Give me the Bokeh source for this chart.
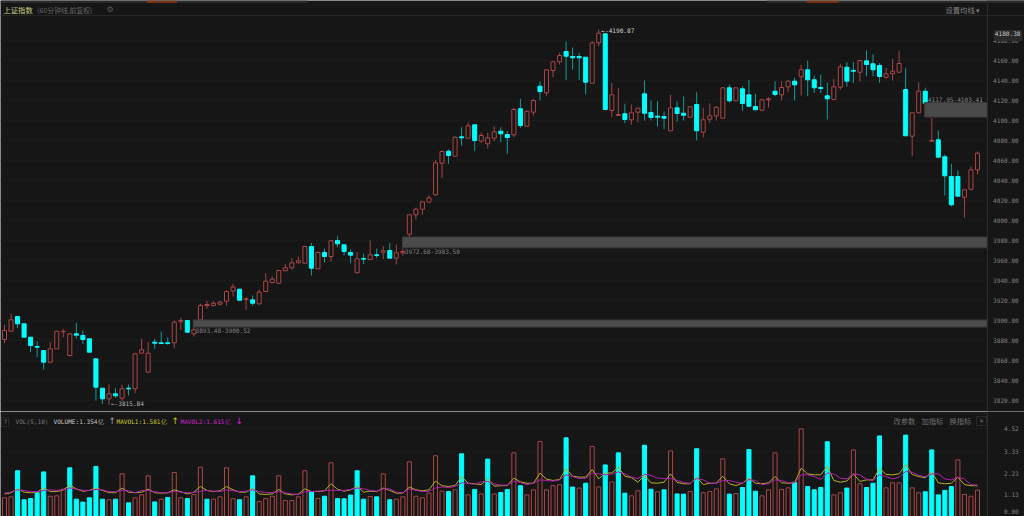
from bokeh.plotting import figure
from bokeh.layouts import column
from bokeh.models import Range1d, LinearAxis, FixedTicker, Label, BoxAnnotation, NumeralTickFormatter, ColumnDataSource
from bokeh.core.properties import value
from bokeh.embed import file_html
from bokeh.resources import INLINE

# ---- data ----
opens = [3881,3889.3,3904,3896.7,3883.3,3874,3870,3858.3,3871.7,3888.7,3865,3886.7,3885,3881.7,3861.7,3832.3,3821.7,3826.7,3822.3,3832.3,
3831.7,3867.3,3848.3,3878.3,3877.7,3877.7,3877.7,3898.7,3900,3886.7,3900.7,3915,3915,3916.3,3919.3,3929.5,3931.3,3921,3920.7,3916.7,
3929,3938,3937.3,3949.7,3952.7,3957.7,3957.3,3974,3951.7,3968,3964,3980,3975.7,3968,3947.7,3962,3961,3965.7,3968.3,3970,
3962.3,3967.7,3986.3,4005.7,4011.3,4018.3,4025.7,4057.3,4069.3,4064.3,4083.7,4082.3,4095.7,4079.3,4076.7,4082.3,4089.3,4086,4085.7,4111.7,
4094.3,4108.3,4134.3,4127.7,4150,4158.7,4169,4164,4164,4163.3,4137.3,4177.7,4186.7,4110,4105,4106.7,4100.7,4108.3,4126.7,4108,
4104.3,4104,4089.7,4112.7,4107.3,4103.3,4116,4088.3,4101.3,4104.7,4102.3,4132.7,4119.7,4131.7,4125.7,4114,4110.3,4120.7,4129.3,4125.7,
4133.7,4139.3,4143.7,4150.7,4140.7,4133,4124.7,4121,4133.3,4153.3,4150,4148.3,4159.7,4156.7,4155,4143.3,4146.7,4148.3,4131,4084.3,
4107.7,4129.3,4079.3,4080.7,4063.7,4044,4044,4023.3,4031.3,4050.7]
highs = [3895.7,3906.7,3904,3896.7,3883.3,3879.3,3870,3878.3,3889.3,3891.7,3887.7,3897.7,3890,3881.7,3861.7,3832.3,3836,3832.3,3835.7,3836,
3867.7,3881.7,3878.3,3881.7,3889,3883.3,3900,3902.7,3900,3895,3916.7,3920,3919,3920,3930,3936.7,3931.3,3923.3,3925,3931,
3947.3,3944,3950.3,3956.7,3962.7,3964,3974.7,3977.7,3969,3971.7,3980.7,3984.3,3975.7,3971,3968.3,3966.7,3980,3972,3974.3,3977.7,
3976,3972,4005.7,4012.7,4018.7,4025,4060.7,4070,4071,4084,4093.3,4098,4095.7,4088,4087.7,4094,4093.3,4089.3,4112.7,4121.7,
4110,4121.7,4139,4151.3,4159.3,4167.7,4179,4173,4167.7,4163.3,4179.3,4190.87,4186.7,4137.7,4132.3,4116.7,4116,4112.3,4140,4120,
4119.3,4109,4125.7,4119,4124,4114.3,4128.3,4112.7,4117,4114.3,4132.7,4135.7,4132.7,4134.3,4140.7,4126.7,4121.7,4123.3,4139.3,4139.3,
4140,4142.7,4155.7,4160,4145,4145.7,4138,4141.7,4156.7,4158.3,4158.3,4160,4170,4166,4157.3,4152.7,4161.7,4170,4152.3,4107.7,
4138.3,4132.7,4102.7,4090,4066,4056.7,4050,4030.7,4054,4069]
lows = [3877.3,3889.3,3892.3,3883.3,3868.3,3863.3,3851,3857.3,3871.7,3883.3,3864.3,3881.7,3876.7,3868.3,3820,3816.7,3815.84,3822.7,3819.3,3825,
3827.3,3867.3,3847.7,3871.7,3876.7,3875.7,3872.3,3890.7,3888.3,3884,3900,3911.7,3914,3915,3915,3924,3920,3910.7,3915,3916,
3929,3937.3,3937,3949.7,3951,3957.3,3957,3945,3951.3,3958,3959,3973.3,3965,3957.3,3947.3,3956.3,3960.7,3962.3,3961.3,3962.3,
3956,3965,3983.3,4001,4006,4018.3,4025,4042.7,4056.7,4064.3,4075,4082.3,4069.3,4077.7,4072,4079.3,4078.3,4066.7,4083.3,4092.3,
4094.3,4105,4120,4124.3,4143.3,4156,4140.7,4151,4140.7,4126,4137.3,4174,4111,4103.3,4105,4097.3,4096,4098.3,4100,4100,
4094,4091.3,4089.7,4099,4100,4102.7,4080,4083,4097.7,4100,4102.3,4118,4119.7,4109.7,4113.3,4110.7,4109.3,4113,4124.3,4120,
4128.3,4120,4125,4124.3,4127.7,4127.3,4101,4121,4130.7,4134,4137.3,4139,4144.3,4144.3,4137.7,4142,4140,4147.7,4084.7,4064.3,
4107.7,4117.3,4079.3,4063.3,4025,4014,4024.3,4002.7,4030,4046]
closes = [3890,3900.7,3896.7,3883.3,3875,3873.3,3858.3,3871.7,3889.3,3889.3,3886.7,3885.3,3881,3868.3,3833.3,3821.7,3826.7,3824.7,3831.7,3831.7,
3866.7,3870.7,3867.3,3877.3,3877,3877,3898.3,3900,3888.3,3890.7,3915,3916,3917.3,3918.3,3929,3933.5,3920.3,3921.7,3917.3,3928.3,
3939.3,3941.3,3950,3952.7,3957.7,3959.7,3974,3952.3,3968,3964,3979.7,3976.7,3969,3965.3,3961.7,3961.3,3965.7,3965,3969.7,3962.3,
3967.7,3969,4005.7,4011.3,4018.7,4022.7,4057.7,4069,4065,4083.3,4082.7,4094.7,4080,4085,4082.7,4088.7,4086.7,4083,4111,4095,
4109.3,4120,4129,4150.7,4158.7,4165,4164.3,4162.7,4162.7,4138.3,4177.7,4187.3,4111,4125.7,4106,4101,4107.7,4112.3,4107.3,4103,
4103.3,4102.3,4112.7,4107,4105.3,4113.7,4089.7,4100.7,4104.7,4113.3,4132.7,4119.7,4132.7,4117,4114.3,4110.7,4120.7,4121.7,4126,4133,
4139.3,4135.7,4150.7,4140.7,4132.7,4132,4121.7,4133.7,4153.7,4139.3,4149.3,4160,4156,4150.7,4144,4146.7,4149.3,4157,4084.7,4107.7,
4129.3,4117.3,4080,4063.3,4044.7,4015.7,4024.3,4030.7,4050.7,4067.3]

volumes = [.96,1.01,2.35,.86,.92,1.22,2.29,1.04,1.06,1.40,2.50,.89,.74,.96,2.57,.89,.86,.89,2.19,.70,.96,1.11,2.09,.75,.89,.98,2.26,.96,.92,1.13,
2.53,.89,.89,1.01,2.50,.91,.86,1.01,2.09,.77,.92,1.04,2.09,.82,.82,1.01,2.35,1.28,.92,1.04,2.76,.92,
.91,1.10,2.35,.89,1.03,1.01,2.19,.86,.89,1.01,2.81,1.04,.96,1.20,3.12,1.30,1.28,1.37,3.22,1.11,1.39,1.16,2.95,1.16,1.23,1.39,3.27,1.58,
1.11,1.37,3.85,1.37,1.58,1.63,4.04,1.51,1.46,1.71,3.60,1.52,2.65,1.78,3.27,1.20,1.06,1.32,3.66,1.40,1.27,1.37,3.37,1.16,
1.15,1.28,3.48,1.22,1.28,1.42,2.96,1.15,1.18,1.49,3.44,1.30,1.06,1.37,3.27,1.39,1.47,1.76,4.50,1.54,1.37,1.49,3.84,1.11,1.22,1.46,
3.42,1.68,1.49,1.71,4.14,1.47,1.73,1.73,4.18,1.47,1.22,1.27,3.42,1.11,1.34,1.54,2.91,1.13,1.04,1.354]
vol_down = [2,3,4,5,6,10,11,12,13,14,15,17,19,23,25,28,31,36,38,47,49,51,52,53,54,55,57,59,68,70,72,74,76,77,79,86,87,89,92,94,95,98,99,101,103,104,106,111,113,114,115,121,123,124,125,126,129,132,133,134,138,141,142,143,144,145]

mavol1 = [1.16,1.22,1.42,1.25,1.22,1.25,1.47,1.28,1.28,1.37,1.61,1.42,1.30,1.34,1.47,1.34,1.23,1.22,1.46,1.25,1.22,1.25,1.40,1.22,1.20,1.22,1.37,1.27,1.16,1.25,
1.54,1.34,1.28,1.32,1.54,1.37,1.25,1.25,1.46,1.16,1.13,1.16,1.39,1.16,1.11,1.15,1.42,1.28,1.28,1.32,1.68,1.40,
1.30,1.37,1.54,1.25,1.30,1.28,1.46,1.34,1.20,1.20,1.51,1.37,1.32,1.37,1.82,1.58,1.54,1.59,2.04,1.71,1.68,1.64,1.93,1.56,1.58,1.59,1.97,1.78,
1.71,1.71,2.23,1.92,1.85,1.90,2.45,2.07,2.02,2.02,2.41,1.93,2.23,2.24,2.53,2.07,2.00,1.76,2.11,1.73,1.71,1.76,2.19,1.75,
1.68,1.68,2.02,1.64,1.71,1.71,2.07,1.68,1.59,1.71,1.97,1.71,1.68,1.73,2.05,1.73,1.71,1.73,2.48,2.19,2.14,2.14,2.57,1.85,1.76,1.82,
2.19,1.80,1.88,1.88,2.48,2.16,2.14,2.19,2.65,2.16,2.05,1.99,2.28,1.73,1.68,1.71,2.02,1.64,1.58,1.581]
mavol2 = [1.20,1.25,1.37,1.34,1.27,1.27,1.34,1.37,1.34,1.37,1.47,1.40,1.34,1.34,1.39,1.37,1.27,1.27,1.35,1.32,1.22,1.34,1.34,1.27,1.22,1.22,1.30,1.25,1.22,1.23,
1.30,1.34,1.30,1.28,1.37,1.32,1.28,1.30,1.37,1.28,1.23,1.23,1.28,1.22,1.16,1.13,1.27,1.28,1.30,1.32,1.35,1.34,
1.34,1.39,1.46,1.42,1.34,1.30,1.42,1.42,1.25,1.23,1.42,1.34,1.28,1.30,1.47,1.52,1.49,1.54,1.73,1.70,1.66,1.78,1.80,1.68,1.61,1.61,1.82,1.75,
1.64,1.71,1.88,1.85,1.82,1.88,2.14,2.05,1.95,1.97,2.23,2.19,2.14,2.19,2.29,2.19,2.02,1.95,2.17,2.11,1.97,1.95,1.95,1.85,
1.75,1.70,1.95,1.88,1.71,1.70,1.85,1.85,1.76,1.71,1.90,1.85,1.64,1.68,1.88,1.85,1.73,1.73,2.14,2.14,2.05,1.90,2.23,2.19,1.97,1.93,
2.19,2.14,1.92,1.85,2.14,2.05,1.93,2.02,2.31,2.28,2.11,2.05,2.19,2.19,1.93,1.88,2.02,1.93,1.63,1.615]

price_ticks = [3820,3840,3860,3880,3900,3920,3940,3960,3980,4000,4020,4040,4060,4080,4100,4120,4140,4160,4180]
vol_ticks = [1.13,2.23,3.33,4.52]

gap_lefts = [28.9,60.95,140.9]
gap_lows = [3893.48,3972.68,4103.41]
gap_highs = [3900.52,3983.50,4117.95]
gap_labels = ["3893.48-3900.52","3972.68-3983.50","4117.95-4103.41"]
gap_label_x = [29.25,61.3,141.4]
gap_label_y = [3890,3969,4121.3]

# ---- style ----
BG = "#161616"
RED = "#a94646"
RED_W = "#a24444"
CYAN = "#00ffff"
CYAN_W = "#0f9c9c"
GRID = "#262626"
MONO = "DejaVu Sans Mono"
CJK = "Noto Sans CJK SC"
W, H = 1024, 516
TOP_H = 411
BOT_H = H - TOP_H
X0, XA, X1 = -0.613, 150.47, 156.2   # left edge, axis position, right edge (index units)

n = len(opens)
idx = list(range(n))

def base(height, yrange, bottom, top):
    f = figure(width=W, height=height, x_range=Range1d(X0, X1), y_range=yrange, output_backend="svg",
               toolbar_location=None, x_axis_location=None, y_axis_location=None,
               background_fill_color=BG, border_fill_color=BG, outline_line_color=None,
               min_border_left=0, min_border_right=0, min_border_top=0, min_border_bottom=0)
    f.xgrid.visible = False
    # keeps the grid dots out of the axis strip
    f.quad(left=[XA], right=[X1], bottom=[bottom], top=[top], fill_color=BG, line_color=None)
    return f

def yaxis(f, ticks, standoff, overrides=None):
    ax = LinearAxis(ticker=FixedTicker(ticks=ticks), formatter=NumeralTickFormatter(format="0.00"),
                    axis_line_color="#2c2c2c", major_tick_line_color=None, minor_tick_line_color=None,
                    major_tick_in=0, major_tick_out=0, minor_tick_in=0, minor_tick_out=0,
                    major_label_text_color="#808080", major_label_text_font=MONO,
                    major_label_text_font_size="6.1px", major_label_standoff=standoff,
                    fixed_location=XA)
    if overrides:
        ax.major_label_overrides = overrides
    f.add_layout(ax, "right")

def label(f, x, y, text, color, font=MONO, size="6.1px", align="left", **kw):
    f.add_layout(Label(x=x, x_units="screen", y=y, text=text, text_color=color, text_font=font,
                       text_font_size=size, text_baseline="middle", text_align=align, **kw))

# ---- price panel ----
p = base(TOP_H, Range1d(3809, 4220), 3809, 4220)
yaxis(p, price_ticks, 6)
p.ygrid.ticker = FixedTicker(ticks=price_ticks)
p.ygrid.grid_line_color = GRID
p.ygrid.grid_line_dash = "1 3"

ups = [i for i in idx if closes[i] >= opens[i]]
dns = [i for i in idx if closes[i] < opens[i]]
def pick(a, ii):
    return [a[i] for i in ii]
up = ColumnDataSource(dict(x=ups, h=pick(highs, ups), l=pick(lows, ups), o=pick(opens, ups), c=pick(closes, ups)))
dn = ColumnDataSource(dict(x=dns, h=pick(highs, dns), l=pick(lows, dns), o=pick(opens, dns), c=pick(closes, dns)))
p.segment("x", "h", "x", "l", source=up, line_color=RED_W, line_width=1)
p.segment("x", "h", "x", "l", source=dn, line_color=CYAN_W, line_width=1)
p.vbar("x", 0.62, "o", "c", source=up, fill_color=BG, line_color=RED, line_width=1)
p.vbar("x", 0.62, "o", "c", source=dn, fill_color=CYAN, line_color=CYAN, line_width=1)

p.quad(left=gap_lefts, right=[XA]*3, bottom=gap_lows, top=gap_highs, fill_color="#4b4b4b", line_color="#3b3b3b", line_width=1)
p.text(x=gap_label_x, y=gap_label_y, text=gap_labels, text_color="#808080", text_font=value(MONO),
       text_font_size="6.1px", text_baseline="middle")

p.text(x=[16.3], y=[3816.7], text=["←-3815.84"], text_color="#b0b0b0", text_font=value(MONO), text_font_size="6.1px", text_baseline="middle")
p.text(x=[91.4], y=[4190.0], text=["←-4190.87"], text_color="#d0d0d0", text_font=value(MONO), text_font_size="6.1px", text_baseline="middle")

# chrome
p.add_layout(BoxAnnotation(left=X0, right=X1, top=4205.5, bottom=4204.6, fill_color="#262626", fill_alpha=1, line_color=None))
for l, r, c in [(0, 307, "#2a2a2a"), (146, 176.5, "#7a3214"), (766, 1024, "#2a2a2a"), (806, 838, "#7a3214")]:
    p.add_layout(BoxAnnotation(left=(l-4)/6.53, right=(r-4)/6.53, top=4220, bottom=4217.6, fill_color=c, fill_alpha=1, line_color=None))

label(p, 3, 4211, "上证指数", "#c9c98a", font=CJK, size="7.3px")
label(p, 37, 4211, "(60分钟线,前复权)", "#666666", font=CJK, size="6.8px")
label(p, 106, 4211, "⚙", "#5a5a5a", font="DejaVu Sans", size="8px")
label(p, 945, 4211, "设置均线 ▾", "#808080", font=CJK, size="7.3px")
p.add_layout(Label(x=993.3, x_units="screen", y=4185, text="4180.38", text_color="#c4c4c4", text_font=MONO,
                   text_font_size="6.1px", text_baseline="middle", background_fill_color="#2a2a2a", padding=(1, 2, 1, 5)))

# ---- volume panel ----
VT = 5.393
q = base(BOT_H, Range1d(0, VT), 0, VT)
yaxis(q, [0.26]+vol_ticks, 17, overrides={0.26: "0.00"})
q.ygrid.ticker = FixedTicker(ticks=vol_ticks)
q.ygrid.grid_line_color = GRID
q.ygrid.grid_line_dash = "1 3"

vd = set(vol_down)
vu_i = [i for i in idx if i not in vd]
vd_i = [i for i in idx if i in vd]
q.vbar(x=vu_i, width=0.62, top=pick(volumes, vu_i), bottom=0, fill_color=BG, line_color=RED, line_width=1)
q.vbar(x=vd_i, width=0.62, top=pick(volumes, vd_i), bottom=0, fill_color=CYAN, line_color=CYAN, line_width=1)
q.line(idx, mavol1, line_color="#b5ad1e", line_width=1)
q.line(idx, mavol2, line_color="#b01fb0", line_width=1)

q.add_layout(BoxAnnotation(left=X0, right=XA, top=5.3, bottom=5.25, fill_color="#232323", fill_alpha=1, line_color=None))
for l, r, t, b in [(1, 8, 5.085, 4.62), (976, 986, 5.136, 4.67)]:
    q.add_layout(BoxAnnotation(left=(l-4)/6.53, right=(r-4)/6.53, top=t, bottom=b, fill_alpha=0, line_color="#555555", line_width=1))
LV = 4.895
label(q, 3, LV, "?", "#777777")
label(q, 15, LV, "VOL(5,10)", "#777777")
label(q, 53, LV, "VOLUME:1.354亿", "#c8c8c8")
label(q, 108, LV, "↑", "#a0a0a0", font="DejaVu Sans", size="9px")
label(q, 116, LV, "MAVOL1:1.581亿", "#c9c92e")
label(q, 171, LV, "↑", "#c9c92e", font="DejaVu Sans", size="9px")
label(q, 180, LV, "MAVOL2:1.615亿", "#d021d0")
label(q, 235, LV, "↓", "#d021d0", font="DejaVu Sans", size="9px")
label(q, 893, LV, "改参数", "#707070", font=CJK, size="7.3px")
label(q, 921, LV, "加指标", "#707070", font=CJK, size="7.3px")
label(q, 949, LV, "换指标", "#707070", font=CJK, size="7.3px")
label(q, 979, LV, "×", "#707070", size="7px")

page = column(p, q, spacing=0)
open("out.html", "w").write(file_html(page, INLINE))
